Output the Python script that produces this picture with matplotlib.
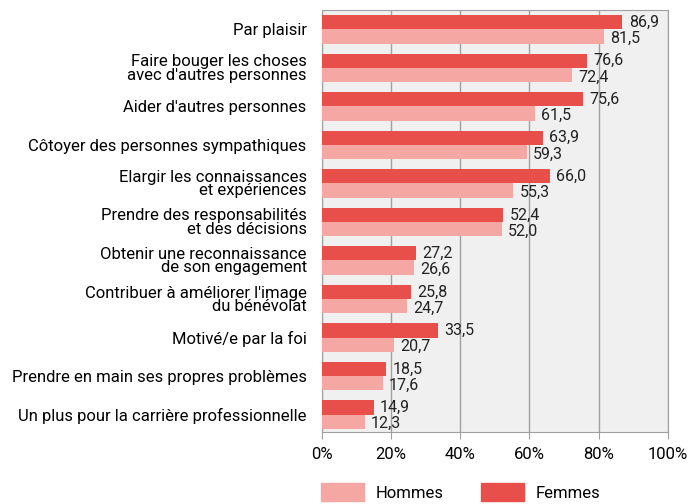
import numpy as np
import matplotlib
matplotlib.use("Agg")
import matplotlib.pyplot as plt
from matplotlib.patches import Patch

plt.rcParams['font.family'] = ['Roboto', 'DejaVu Sans']

categories = [
    "Par plaisir",
    "Faire bouger les choses\navec d'autres personnes",
    "Aider d'autres personnes",
    "Côtoyer des personnes sympathiques",
    "Elargir les connaissances\net expériences",
    "Prendre des responsabilités\net des décisions",
    "Obtenir une reconnaissance\nde son engagement",
    "Contribuer à améliorer l'image\ndu bénévolat",
    "Motivé/e par la foi",
    "Prendre en main ses propres problèmes",
    "Un plus pour la carrière professionnelle",
]
femmes = [86.9, 76.6, 75.6, 63.9, 66.0, 52.4, 27.2, 25.8, 33.5, 18.5, 14.9]
hommes = [81.5, 72.4, 61.5, 59.3, 55.3, 52.0, 26.6, 24.7, 20.7, 17.6, 12.3]
xticks = [0, 20, 40, 60, 80, 100]

col_f = '#e84f4a'
col_h = '#f4a7a3'

fig = plt.figure(figsize=(6.97, 5.04), dpi=100)
ax = fig.add_axes([0.462, 0.143, 0.496, 0.837])
ax.set_facecolor('#eff0ef')

y = np.arange(len(categories))
h = 0.37
ax.barh(y - h / 2, femmes, height=h, color=col_f, zorder=3)
ax.barh(y + h / 2, hommes, height=h, color=col_h, zorder=3)

for i in range(len(categories)):
    ax.text(femmes[i] + 1.8, y[i] - h / 2, f"{femmes[i]:.1f}".replace('.', ','),
            va='center', ha='left', fontsize=11.5, color='#222222', zorder=4)
    ax.text(hommes[i] + 1.8, y[i] + h / 2 + 0.05, f"{hommes[i]:.1f}".replace('.', ','),
            va='center', ha='left', fontsize=11.5, color='#222222', zorder=4)

ax.set_xlim(0, 100)
ax.set_ylim(10.45, -0.5)
ax.set_xticks(xticks)
ax.set_xticklabels([f"{t}%" for t in xticks], fontsize=12)
ax.set_yticks(y)
ax.set_yticklabels(categories, fontsize=12, linespacing=0.85)
ax.tick_params(axis='y', length=0, pad=11)
ax.tick_params(axis='x', length=5, color='#a0a0a0', pad=6)
ax.grid(axis='x', color='#a0a0a0', linewidth=1, zorder=1)
for s in ax.spines.values():
    s.set_color('#a0a0a0')

handles = [Patch(color=col_h, label='Hommes'), Patch(color=col_f, label='Femmes')]
fig.legend(handles=handles, loc='lower left', bbox_to_anchor=(0.439, -0.024), ncol=2,
           frameon=False, fontsize=12, handlelength=2.6, handleheight=1.3,
           columnspacing=2.2, handletextpad=0.7)

fig.savefig('out.png', dpi=100)
